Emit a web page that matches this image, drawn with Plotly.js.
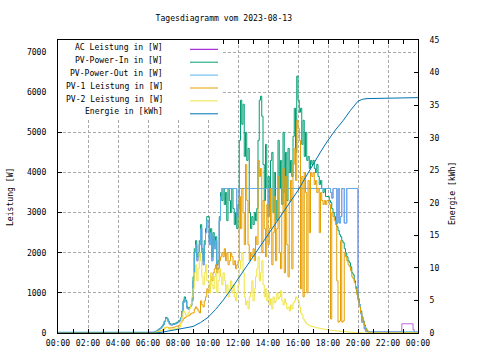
<!DOCTYPE html>
<html><head><meta charset="utf-8">
<script src="https://cdn.plot.ly/plotly-3.0.1.min.js"></script>
<style>html,body{margin:0;padding:0;background:#fff}#chart{width:480px;height:360px}</style>
</head><body><div id="chart"></div>
<script>
const chartTitle = "Tagesdiagramm vom 2023-08-13";
const leftTitle = "Leistung [W]";
const rightTitle = "Energie [kWh]";
const seriesNames = ["AC Leistung in [W]","PV-Power-In in [W]","PV-Power-Out in [W]","PV-1 Leistung in [W]","PV-2 Leistung in [W]","Energie in [kWh]"];
const seriesColors = ["#9400d3","#009e73","#56b4e9","#e69f00","#f0e442","#0072b2"];
const tickHours = [0,2,4,6,8,10,12,14,16,18,20,22,24];
const tickLabels = ["00:00","02:00","04:00","06:00","08:00","10:00","12:00","14:00","16:00","18:00","20:00","22:00","00:00"];

// samples every 5 minutes from 06:00 to 21:00 (one row per hour)
const dayStartHour = 6, stepMinutes = 5;
const pvIn = [
0,0,0,0,0,20,40,60,90,110,130,170,
220,300,390,370,300,240,220,220,230,240,250,270,
290,320,380,550,800,900,820,650,620,640,700,850,
1400,2100,2300,1900,2000,2300,2700,2100,1800,2300,2600,2900,
2900,2300,2600,1900,2500,2200,2400,1700,1800,2900,3500,3300,
3600,3200,3500,2800,3600,3300,3000,3600,3100,2700,3000,2600,
3200,4800,5800,5200,5700,4400,5000,4300,4600,3000,2600,2900,
2700,3000,2800,3100,4800,5800,5900,5400,4200,3300,4700,3600,
3900,3100,4300,4500,3000,4000,3300,2800,4800,3600,4300,3200,
5000,3500,4500,3300,4600,4000,4300,3900,4900,5600,4500,6400,
5800,5500,5600,4700,5300,4400,5000,4300,4400,4100,4300,4200,
4300,4100,4000,4200,3900,3700,3800,3600,3500,3600,3400,3400,
3400,3300,3250,3100,3000,2900,2800,2650,2550,2450,2400,2300,
2250,2100,2000,1900,1800,1750,1650,1500,1450,1300,1150,1000,
850,700,550,400,300,200,120,60,30,10,0,0,
0];
const pvOut = [
20,20,20,20,20,30,40,60,80,100,120,160,
200,280,360,350,280,220,200,200,210,220,230,250,
270,300,360,520,760,850,780,620,590,610,670,800,
1300,2000,2200,1800,1900,2200,2600,2000,1700,2200,2500,2800,
2800,2200,2500,1800,2400,2100,2300,1600,1600,2800,3400,3600,
3600,3600,3600,3600,3600,3600,3600,3600,3600,3600,3600,2900,
3100,3600,3600,3600,3600,3600,3600,3600,3600,3600,3600,3600,
3600,3600,3600,3600,3600,3600,3600,3600,3600,3600,3600,3600,
2900,3300,3600,3600,3600,3600,3600,3600,3600,3600,3600,3600,
3600,3600,3600,3600,3600,3600,3600,3600,3600,3600,3600,3600,
3600,3600,3600,3600,3600,3600,3600,3600,3600,3600,3600,3600,
3600,3600,3600,3600,3600,3600,3600,3600,3600,3600,3600,3600,
3600,3600,3500,3360,3600,3600,3600,2740,3600,2740,2900,3600,
3600,2740,2740,3600,3600,3600,3600,3600,3600,3600,3600,3600,
850,700,480,270,270,100,40,30,30,30,30,30,
30];
const pv1 = [
0,0,0,0,0,10,20,30,40,50,60,70,
90,120,140,140,130,120,130,130,140,150,160,170,
180,200,250,300,350,380,400,420,430,450,480,500,
500,600,650,600,550,500,800,700,650,800,900,1100,
1000,1200,1400,1300,1500,1600,1700,1500,1600,1800,1900,2000,
1900,2100,1800,2000,1700,1800,2000,1900,1700,1800,1600,1700,
1800,3400,2600,3600,3000,2200,4200,3300,2200,1800,2000,1900,
2100,1800,2400,2200,4300,3900,4100,2000,3300,2600,1900,3200,
2200,2600,3600,1700,2500,3400,1800,2600,3900,2000,1600,3000,
4100,1500,3900,2200,1400,3300,3800,1600,4200,4600,3800,5300,
5100,4800,1100,3900,900,4000,3500,1000,3800,2500,4000,3900,
4000,3700,3800,3500,3600,2500,3500,3300,3200,3300,3200,3300,
3300,3200,350,3000,2900,2800,2700,1300,270,300,2300,270,
300,2000,1900,1800,1700,1650,1550,1400,1350,1250,1100,950,
800,650,500,380,280,180,100,50,20,0,0,0,
0];
const pv2 = [
0,0,0,0,0,10,20,30,40,50,60,80,
100,130,150,140,110,90,90,90,100,100,110,120,
120,150,250,400,550,500,450,420,500,600,700,900,
1100,1500,1700,1300,1600,2000,1800,1400,1200,1500,1700,1300,
1300,1000,1500,1200,1100,1400,1500,1000,1300,1600,1400,1200,
1500,1300,1000,1200,900,1100,1300,1000,1200,900,800,1000,
1200,1600,1800,2000,1500,900,700,800,600,900,1000,1300,
800,1100,1400,1600,1900,1300,1500,1800,1200,900,1100,800,
1000,700,850,600,900,750,800,1000,850,900,1050,800,
700,850,750,600,650,550,700,600,750,800,900,850,
800,650,500,450,350,300,250,220,200,180,170,160,
150,150,140,130,120,120,110,100,100,90,90,80,
80,70,70,60,60,60,50,50,50,40,40,40,
40,40,30,30,30,20,20,20,20,10,10,10,
10,10,0,0,0,0,0,0,0,0,0,0,
0];
// AC power follows PV-Out during the day; short load late evening
const acDay = pvOut;
const acLateHours = [22.92, 23.67, 23.75];
const acLateVals = [230, 80, 0];
const nightOutW = 20;

const energyHours = [0,6.5,7,7.5,8,8.5,9,9.5,10,10.5,11,11.5,12,12.5,13,13.5,14,14.5,15,15.5,16,16.5,17,17.5,18,18.5,19,19.5,20,20.3,20.6,22,24];
const energyKWh  = [0,0,0.15,0.35,0.6,0.8,1.0,1.6,2.4,3.6,5.0,6.6,8.3,10.1,11.9,13.6,15.2,16.9,18.5,20.2,21.9,23.9,25.9,27.8,29.6,31.2,32.6,34.2,35.6,35.9,36.0,36.05,36.15];

const tDay = pvIn.map((_, i) => dayStartHour + i * stepMinutes / 60);
function dayTrace(vals, nightVal, idx, width, extraX, extraY) {
  const x = [0].concat(tDay, extraX || [], [24]);
  const y = [nightVal].concat(vals, extraY || [], [nightVal]);
  return {x: x, y: y, type: 'scatter', mode: 'lines', name: seriesNames[idx],
          line: {color: seriesColors[idx], width: width, shape: 'hv'}, showlegend: false, hoverinfo: 'skip'};
}
const traces = [
  dayTrace(acDay, 0, 0, 0.6, acLateHours, acLateVals),
  dayTrace(pvIn, 0, 1, 1),
  dayTrace(pvOut, nightOutW, 2, 1),
  dayTrace(pv1, 0, 3, 1),
  dayTrace(pv2, 0, 4, 1),
  {x: energyHours, y: energyKWh, yaxis: 'y2', type: 'scatter', mode: 'lines', name: seriesNames[5],
   line: {color: seriesColors[5], width: 1}, showlegend: false, hoverinfo: 'skip'}
];

const FONT = {family: 'DejaVu Sans Mono, monospace', size: 8.1, color: '#000'};
const L = 58, R = 62, T = 40, B = 27, W = 480, H = 360;
const pw = W - L - R, ph = H - T - B;
const px = v => (v - L) / pw, py = v => (H - B - v) / ph;

const shapes = [{type: 'rect', xref: 'paper', yref: 'paper', x0: 0, x1: px(223), y0: py(119), y1: 1,
  fillcolor: '#fff', line: {width: 0}, layer: 'above'}];
const annotations = [];
seriesNames.forEach((n, i) => {
  const ly = 49.3 + 12.9 * i;
  annotations.push({xref: 'paper', yref: 'paper', x: px(165), y: py(ly - 2.3), xanchor: 'right', yanchor: 'middle',
    text: n, showarrow: false, font: FONT});
  shapes.push({type: 'line', xref: 'paper', yref: 'paper', x0: px(190), x1: px(218), y0: py(ly), y1: py(ly),
    line: {color: seriesColors[i], width: 1}, layer: 'above'});
});
annotations.push({xref: 'paper', yref: 'paper', x: px(10), y: py(197), textangle: -90, text: leftTitle,
  showarrow: false, font: FONT, xanchor: 'center', yanchor: 'middle'});
annotations.push({xref: 'paper', yref: 'paper', x: px(452), y: py(194), textangle: -90, text: rightTitle,
  showarrow: false, font: FONT, xanchor: 'center', yanchor: 'middle'});

const gridStyle = {showgrid: true, gridcolor: '#a8a8a8', gridwidth: 1, griddash: '3px,2px'};
const layout = {
  width: W, height: H, margin: {l: L, r: R, t: T, b: B, pad: 0},
  paper_bgcolor: '#fff', plot_bgcolor: '#fff', font: FONT, showlegend: false,
  title: {text: chartTitle, x: 223.8 / W, xref: 'container', xanchor: 'center', y: 1 - 18 / H, yref: 'container', yanchor: 'middle', font: FONT},
  xaxis: Object.assign({range: [0, 24], tickmode: 'array', tickvals: tickHours, ticktext: tickLabels,
    ticks: 'inside', ticklen: 4, tickcolor: '#000', showline: true, linecolor: '#000', linewidth: 1,
    mirror: 'allticks', zeroline: false, ticklabelstandoff: 2, tickfont: FONT,
    minor: {tickmode: 'linear', tick0: 0, dtick: 1, ticks: 'inside', ticklen: 2, tickcolor: '#000', showgrid: false}}, gridStyle),
  yaxis: Object.assign({range: [0, 7300], tickmode: 'linear', tick0: 0, dtick: 1000, ticks: 'inside', ticklen: 4,
    tickcolor: '#000', showline: true, linecolor: '#000', linewidth: 1, mirror: true, zeroline: false,
    ticklabelstandoff: 9, tickfont: FONT}, gridStyle),
  yaxis2: {range: [0, 45], tickmode: 'linear', tick0: 0, dtick: 5, overlaying: 'y', side: 'right', ticks: 'inside',
    ticklen: 4, tickcolor: '#000', showline: true, linecolor: '#000', linewidth: 1, showgrid: false, zeroline: false,
    ticklabelstandoff: 9, tickfont: FONT},
  shapes: shapes, annotations: annotations
};
Plotly.newPlot('chart', traces, layout, {staticPlot: true, displayModeBar: false});
</script></body></html>
